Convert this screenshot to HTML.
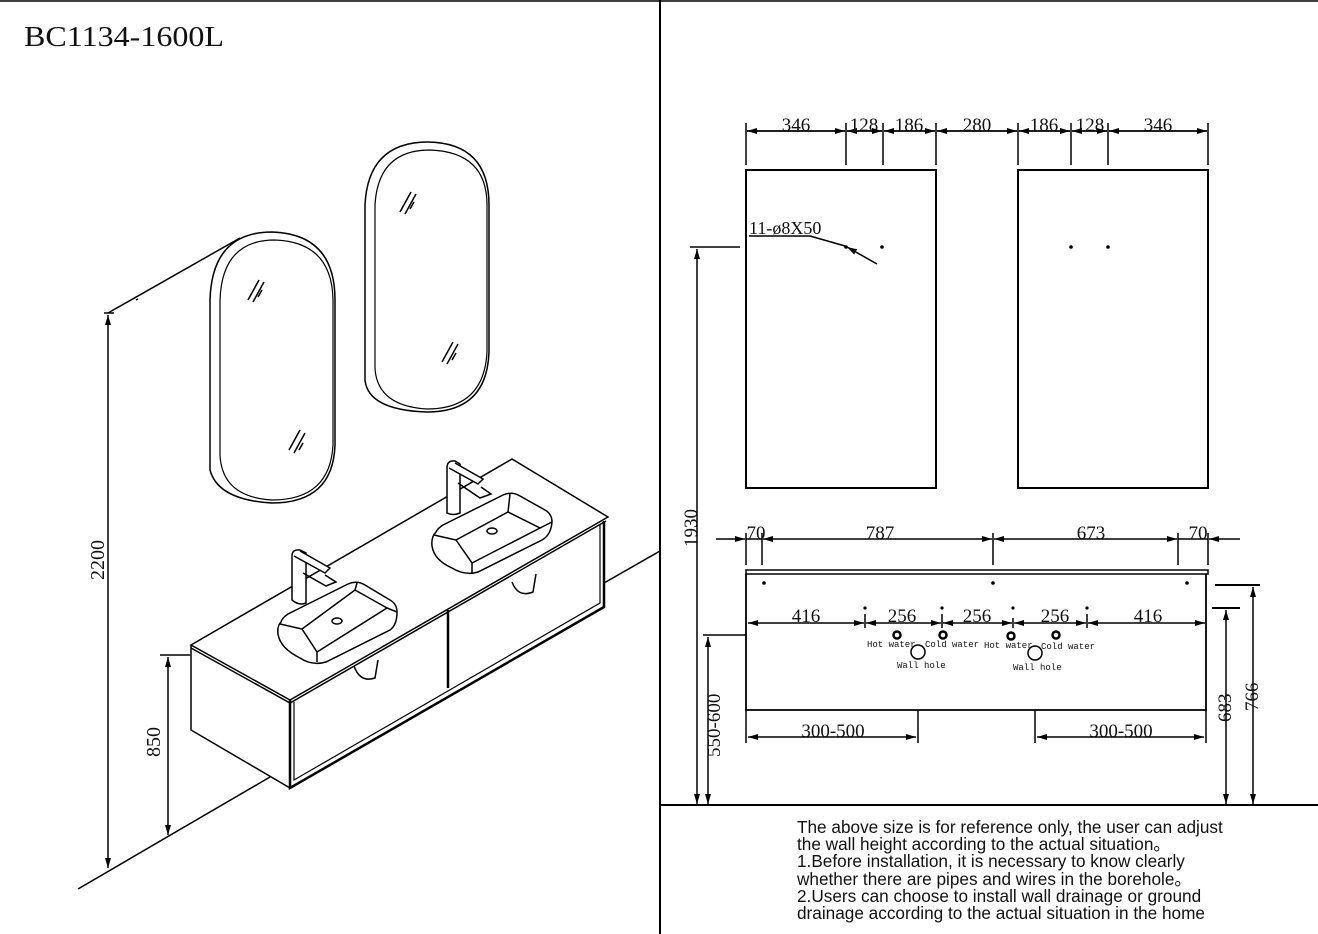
<!DOCTYPE html>
<html><head><meta charset="utf-8"><style>
html,body{margin:0;padding:0;background:#fff;}
svg{display:block}
.t{font-family:"Liberation Serif",serif;fill:#111}
.m{font-family:"Liberation Mono",monospace;fill:#111;font-size:9px}
.s{font-family:"Liberation Sans",sans-serif;fill:#111;font-size:17.2px}
</style></head><body>
<svg width="1318" height="934" viewBox="0 0 1318 934" xmlns="http://www.w3.org/2000/svg">
<defs>
<marker id="a" viewBox="0 0 10 6" refX="10" refY="3" markerWidth="10" markerHeight="6" markerUnits="userSpaceOnUse" orient="auto-start-reverse"><path d="M0,0 L10,3 L0,6 z" fill="#000"/></marker>
</defs>
<g stroke="#000" fill="none" stroke-width="1.5">
<line x1="0" y1="1" x2="1318" y2="1"/>
<line x1="660" y1="0" x2="660" y2="934" stroke-width="2"/>
<line x1="660" y1="805" x2="1318" y2="805" stroke-width="2"/>

<line x1="108" y1="313" x2="240" y2="238"/>
<line x1="136" y1="300" x2="138" y2="299"/>
<line x1="78" y1="889" x2="270" y2="777"/>
<line x1="604" y1="583" x2="660" y2="551"/>
<line x1="104" y1="313" x2="114" y2="313"/>
<line x1="108" y1="315" x2="108" y2="868" marker-start="url(#a)" marker-end="url(#a)"/>
<line x1="168" y1="657" x2="168" y2="835" marker-start="url(#a)" marker-end="url(#a)"/>
<line x1="160" y1="655" x2="190" y2="655"/>

<!-- cabinet -->
<path d="M191,645 L512,459 L608,517 L604,607 L290,788 L191,730 Z" fill="#fff" stroke="none"/>
<path d="M191,645 L512,459 L608,517 L290,700 Z"/>
<path d="M191,648 L290,703 L606,521" />
<path d="M191,645 L191,730 L290,788"/>
<path d="M290,700 L290,788 L604,607 L604,521" stroke-width="2.5"/>
<path d="M294,702 L294,780 L600,603 L600,524" stroke-width="1.2"/>
<line x1="448" y1="610" x2="448" y2="688" stroke-width="2.5"/>
<path d="M354,666 Q360,683 375,678 L378,660" />
<path d="M512,582 Q518,598 533,592 L536,574" />

<!-- left sink -->
<path d="M281,622 Q277,626 278,634 Q280,648 300,658 Q312,666 326,662 L390,630 Q397,625 397,612 Q397,604 390,600 L365,585 Q357,580 348,584 L288,614 Q282,618 281,622 Z" fill="#fff"/>
<path d="M280,624 L302,629 L317,652 L317,662"/>
<path d="M302,629 L355,590 L387,608 L317,652"/>
<path d="M355,590 L357,583"/><path d="M387,608 L397,612"/>
<ellipse cx="337" cy="621" rx="5" ry="3"/>
<!-- left faucet -->
<path d="M292,600 L292,556 Q292,549 300,550 L306,553 L306,603 Q299,606 292,600 Z" fill="#fff"/>
<path d="M294,556 L325,573 L330,568 L300,551" fill="#fff"/>
<path d="M303,573 L326,586 L336,582 L325,575"/>

<!-- right sink -->
<path d="M436,532 Q431,537 432,546 Q434,560 452,568 Q465,576 478,572 L542,540 Q551,535 552,522 Q552,514 545,510 L520,496 Q512,491 503,495 L443,525 Q438,528 436,532 Z" fill="#fff"/>
<path d="M434,535 L456,540 L472,563 L472,573"/>
<path d="M456,540 L508,512 L540,528 L472,563"/>
<path d="M508,512 L510,494"/><path d="M540,528 L552,522"/>
<ellipse cx="492" cy="531" rx="5" ry="3"/>
<path d="M447,513 L447,468 Q447,460 455,461 L460,464 L460,513 Q453,516 447,513 Z" fill="#fff"/>
<path d="M449,468 L478,484 L483,479 L455,463" fill="#fff"/>
<path d="M458,483 L480,498 L491,494 L481,487"/>

<!-- left mirror -->
<path d="M210,300 Q212,232 272,232 Q335,234 335,300 L335,445 Q333,503 272,503 Q218,500 210,470 Z"/>
<path d="M220,300 Q222,240 275,240 Q332,242 333,300 L333,445 Q330,500 272,500 Q222,497 220,455 Z" stroke-width="1.2"/>
<line x1="248" y1="300" x2="259" y2="280"/><line x1="253" y1="302" x2="264" y2="282"/><line x1="258" y1="297" x2="262" y2="290"/>
<line x1="289" y1="450" x2="300" y2="430"/><line x1="294" y1="453" x2="305" y2="433"/><line x1="299" y1="450" x2="303" y2="443"/>
<!-- right mirror -->
<path d="M365,205 Q368,142 428,142 Q489,143 489,205 L489,352 Q487,412 427,412 Q368,410 365,380 Z"/>
<path d="M375,205 Q378,150 430,150 Q487,152 487,205 L487,352 Q484,409 427,409 Q377,406 375,368 Z" stroke-width="1.2"/>
<line x1="400" y1="212" x2="411" y2="192"/><line x1="405" y1="214" x2="416" y2="194"/><line x1="410" y1="209" x2="414" y2="202"/>
<line x1="442" y1="362" x2="453" y2="342"/><line x1="447" y1="364" x2="458" y2="344"/><line x1="452" y1="360" x2="456" y2="353"/>

<!-- RIGHT: top dims -->
<line x1="746" y1="123" x2="746" y2="165"/><line x1="846" y1="123" x2="846" y2="165"/>
<line x1="883" y1="123" x2="883" y2="165"/><line x1="936" y1="123" x2="936" y2="165"/>
<line x1="1018" y1="123" x2="1018" y2="165"/><line x1="1071" y1="123" x2="1071" y2="165"/>
<line x1="1108" y1="123" x2="1108" y2="165"/><line x1="1208" y1="123" x2="1208" y2="165"/>
<g stroke-width="1.8">
<line x1="747" y1="131" x2="845" y2="131" marker-start="url(#a)" marker-end="url(#a)"/>
<line x1="847" y1="131" x2="882" y2="131" marker-start="url(#a)" marker-end="url(#a)"/>
<line x1="884" y1="131" x2="935" y2="131" marker-start="url(#a)" marker-end="url(#a)"/>
<line x1="937" y1="131" x2="1017" y2="131" marker-start="url(#a)" marker-end="url(#a)"/>
<line x1="1019" y1="131" x2="1070" y2="131" marker-start="url(#a)" marker-end="url(#a)"/>
<line x1="1072" y1="131" x2="1107" y2="131" marker-start="url(#a)" marker-end="url(#a)"/>
<line x1="1109" y1="131" x2="1207" y2="131" marker-start="url(#a)" marker-end="url(#a)"/>
</g>
<rect x="746" y="170" width="190" height="318" stroke-width="2"/>
<rect x="1018" y="170" width="190" height="318" stroke-width="2"/>
<line x1="749" y1="236" x2="810" y2="236"/>
<path d="M810,236 L845,246"/>
<line x1="877" y1="264" x2="847" y2="247" marker-end="url(#a)"/>
<line x1="690" y1="247" x2="740" y2="247"/>
<line x1="697" y1="249" x2="697" y2="804" marker-start="url(#a)" marker-end="url(#a)"/>

<line x1="716" y1="539" x2="745" y2="539" marker-end="url(#a)"/>
<line x1="763" y1="539" x2="992" y2="539" marker-start="url(#a)" marker-end="url(#a)"/>
<line x1="994" y1="539" x2="1177" y2="539" marker-start="url(#a)" marker-end="url(#a)"/>
<line x1="1240" y1="539" x2="1209" y2="539" marker-end="url(#a)"/>
<line x1="746" y1="539" x2="762" y2="539"/><line x1="1178" y1="539" x2="1208" y2="539"/>
<line x1="746" y1="533" x2="746" y2="565"/><line x1="762" y1="533" x2="762" y2="565"/>
<line x1="993" y1="533" x2="993" y2="565"/><line x1="1178" y1="533" x2="1178" y2="565"/>
<line x1="1208" y1="533" x2="1208" y2="565"/>
<rect x="746" y="570" width="462" height="4" stroke-width="1.5"/>
<path d="M746,574 L746,710 L1206,710 L1206,574" stroke-width="1.8"/>
<line x1="748" y1="623" x2="864" y2="623" marker-start="url(#a)" marker-end="url(#a)"/>
<line x1="866" y1="623" x2="941" y2="623" marker-start="url(#a)" marker-end="url(#a)"/>
<line x1="943" y1="623" x2="1012" y2="623" marker-start="url(#a)" marker-end="url(#a)"/>
<line x1="1014" y1="623" x2="1086" y2="623" marker-start="url(#a)" marker-end="url(#a)"/>
<line x1="1088" y1="623" x2="1205" y2="623" marker-start="url(#a)" marker-end="url(#a)"/>
<line x1="865" y1="614" x2="865" y2="628"/><line x1="942" y1="614" x2="942" y2="628"/>
<line x1="1013" y1="618" x2="1013" y2="628"/><line x1="1087" y1="614" x2="1087" y2="628"/>
<circle cx="897" cy="635" r="3.5" stroke-width="2.5"/><circle cx="943" cy="635" r="3.5" stroke-width="2.5"/>
<circle cx="1011" cy="636" r="3.5" stroke-width="2.5"/><circle cx="1056" cy="635" r="3.5" stroke-width="2.5"/>
<circle cx="918" cy="652" r="7"/><circle cx="1035" cy="653" r="7"/>
<line x1="703" y1="635" x2="746" y2="635"/>
<line x1="708" y1="637" x2="708" y2="804" marker-start="url(#a)" marker-end="url(#a)"/>
<line x1="918" y1="710" x2="918" y2="743"/><line x1="746" y1="710" x2="746" y2="743"/>
<line x1="748" y1="737" x2="916" y2="737" marker-start="url(#a)" marker-end="url(#a)"/>
<line x1="1035" y1="710" x2="1035" y2="743"/><line x1="1206" y1="710" x2="1206" y2="743"/>
<line x1="1037" y1="737" x2="1204" y2="737" marker-start="url(#a)" marker-end="url(#a)"/>
<line x1="1212" y1="608" x2="1240" y2="608" stroke-width="2"/>
<line x1="1226" y1="610" x2="1226" y2="804" marker-start="url(#a)" marker-end="url(#a)"/>
<line x1="1215" y1="585" x2="1260" y2="585" stroke-width="2"/>
<line x1="1253" y1="587" x2="1253" y2="804" marker-start="url(#a)" marker-end="url(#a)"/>
</g>
<g fill="#000">
<circle cx="846" cy="247" r="1.8"/><circle cx="882" cy="247" r="1.8"/>
<circle cx="1071" cy="247" r="1.8"/><circle cx="1108" cy="247" r="1.8"/>
<circle cx="764" cy="583" r="1.8"/><circle cx="993" cy="583" r="1.8"/><circle cx="1187" cy="583" r="1.8"/>
<circle cx="865" cy="608" r="1.6"/><circle cx="942" cy="608" r="1.6"/><circle cx="1013" cy="608" r="1.6"/><circle cx="1087" cy="608" r="1.6"/>
</g>

<text class="t" x="24" y="46" font-size="28" textLength="200" lengthAdjust="spacingAndGlyphs">BC1134-1600L</text>
<text class="t" font-size="20" transform="translate(104,580) rotate(-90)">2200</text>
<text class="t" font-size="20" transform="translate(160,757) rotate(-90)">850</text>

<g class="t" font-size="19" text-anchor="middle">
<text x="796" y="131">346</text><text x="864" y="131">128</text><text x="909" y="131">186</text>
<text x="977" y="131">280</text><text x="1044" y="131">186</text><text x="1090" y="131">128</text>
<text x="1158" y="131">346</text>
<text x="756" y="539">70</text><text x="880" y="539">787</text><text x="1091" y="539">673</text><text x="1198" y="539">70</text>
<text x="806" y="622">416</text><text x="902" y="622">256</text><text x="977" y="622">256</text>
<text x="1055" y="622">256</text><text x="1148" y="622">416</text>
<text x="833" y="737">300-500</text><text x="1121" y="737">300-500</text>
</g>
<text class="t" x="749" y="234" font-size="18">11-ø8X50</text>
<text class="t" font-size="19" transform="translate(697,547) rotate(-90)">1930</text>
<text class="t" font-size="19" transform="translate(720,757) rotate(-90)">550-600</text>
<text class="t" font-size="19" transform="translate(1231,722) rotate(-90)">683</text>
<text class="t" font-size="19" transform="translate(1258,711) rotate(-90)">766</text>

<text class="m" x="867" y="647">Hot water</text><text class="m" x="925" y="647">Cold water</text>
<text class="m" x="984" y="648">Hot water</text><text class="m" x="1041" y="649">Cold water</text>
<text class="m" x="897" y="668">Wall hole</text><text class="m" x="1013" y="670">Wall hole</text>

<g class="s">
<text x="797" y="833">The above size is for reference only, the user can adjust</text>
<text x="797" y="850">the wall height according to the actual situation。</text>
<text x="797" y="867">1.Before installation, it is necessary to know clearly</text>
<text x="797" y="885">whether there are pipes and wires in the borehole。</text>
<text x="797" y="902">2.Users can choose to install wall drainage or ground</text>
<text x="797" y="919">drainage according to the actual situation in the home</text>
</g>
</svg>
</body></html>
